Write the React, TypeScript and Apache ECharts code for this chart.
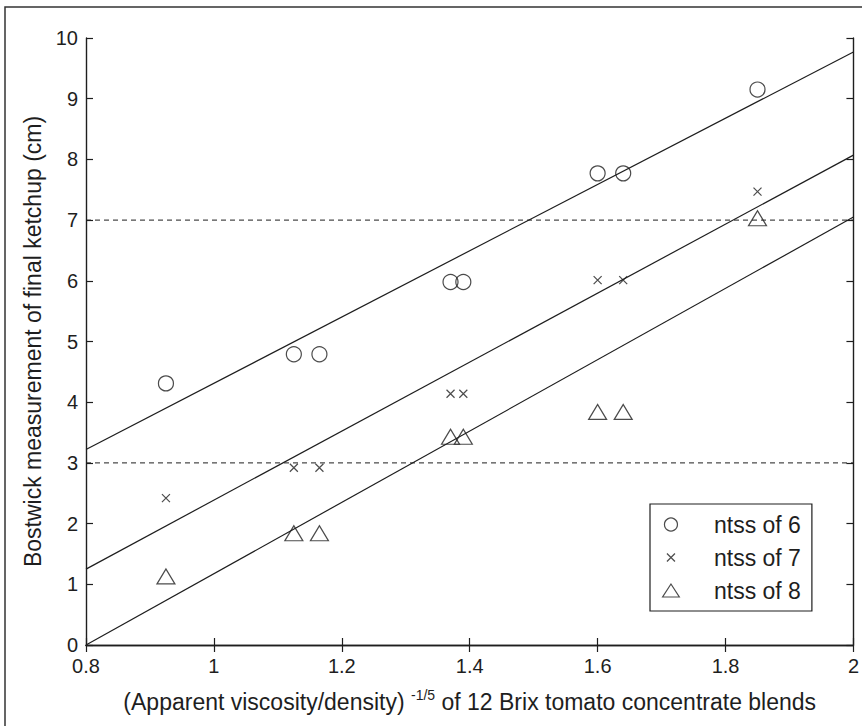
import React, { useEffect, useRef } from "react";
import * as echarts from "echarts";

// ---- data ----
const xValues = [0.925, 1.125, 1.165, 1.37, 1.39, 1.6, 1.64, 1.85];
const ntss6 = [4.31, 4.79, 4.79, 5.98, 5.98, 7.77, 7.77, 9.15];
const ntss7 = [2.42, 2.92, 2.92, 4.14, 4.14, 6.01, 6.01, 7.47];
const ntss8 = [1.13, 1.84, 1.84, 3.43, 3.43, 3.84, 3.84, 7.03];
const seriesNames = ["ntss of 6", "ntss of 7", "ntss of 8"];
const fitX = [0.8, 2.0];
const fit6 = [3.22, 9.77];
const fit7 = [1.25, 8.07];
const fit8 = [0.0, 7.05];
const refLevels = [3, 7];
const xRange = { min: 0.8, max: 2.0, interval: 0.2 };
const yRange = { min: 0, max: 10, interval: 1 };
const xTitle = "(Apparent viscosity/density) {sup|-1/5} of 12 Brix tomato concentrate blends";
const yTitle = "Bostwick measurement of final ketchup (cm)";

const FONT = "'Liberation Sans', Arial, Helvetica, sans-serif";
const INK = "#1e1e1e";

const pairs = (xs: number[], ys: number[]) => xs.map((x, i) => [x, ys[i]]);

const crossPath = "path://M0,0L10,10M10,0L0,10";
const crossLegend = "path://M0,0M13,13M2.5,2.5L10.5,10.5M10.5,2.5L2.5,10.5";
const triLegend = "path://M9,0L18,14L0,14Z";

function buildOption() {
  const markerStyle = { color: "rgba(0,0,0,0)", borderColor: INK, borderWidth: 1.2 };
  const fitLine = (name: string, ys: number[]) => ({
    name,
    type: "line",
    data: pairs(fitX, ys),
    showSymbol: false,
    silent: true,
    lineStyle: { color: INK, width: 1.2 },
    z: 2,
  });
  const refLine = (level: number) => ({
    name: "ref" + level,
    type: "line",
    data: pairs(fitX, [level, level]),
    showSymbol: false,
    silent: true,
    lineStyle: { color: INK, width: 1, type: [5, 4] },
    z: 1,
  });
  const axisCommon = {
    axisLine: { show: true, lineStyle: { color: INK, width: 1.4 } },
    axisTick: { show: true, inside: true, length: 7, lineStyle: { color: INK, width: 1.2 } },
    splitLine: { show: false },
  };
  return {
    animation: false,
    backgroundColor: "#ffffff",
    textStyle: { fontFamily: FONT },
    grid: { left: 86, right: 4, top: 38, bottom: 81 },
    graphic: [
      {
        type: "rect",
        silent: true,
        z: -10,
        shape: { x: 5, y: 7, width: 900, height: 800 },
        style: { fill: "none", stroke: "#333", lineWidth: 1.5 },
      },
    ],
    legend: {
      orient: "vertical",
      left: 650,
      top: 504,
      padding: [9, 11, 9, 12],
      itemGap: 10,
      itemWidth: 76,
      itemHeight: 13,
      borderColor: INK,
      borderWidth: 1.2,
      backgroundColor: "#fff",
      selectedMode: false,
      itemStyle: { borderWidth: 1.2, borderColor: INK, color: "rgba(0,0,0,0)" },
      textStyle: { fontSize: 23, color: INK, fontFamily: FONT },
      data: [
        { name: seriesNames[0], icon: "circle" },
        { name: seriesNames[1], icon: crossLegend },
        { name: seriesNames[2], icon: triLegend },
      ],
    },
    xAxis: [
      {
        type: "value",
        position: "bottom",
        ...xRange,
        ...axisCommon,
        axisLabel: {
          fontSize: 20,
          color: INK,
          margin: 11,
          fontFamily: FONT,
          formatter: (v: number) => String(parseFloat(v.toFixed(2))),
        },
        name: xTitle,
        nameLocation: "middle",
        nameGap: 43,
        nameTextStyle: {
          fontSize: 23,
          color: INK,
          fontFamily: FONT,
          lineHeight: 28,
          rich: { sup: { fontSize: 14, color: INK, fontFamily: FONT, verticalAlign: "top", lineHeight: 16 } },
        },
      },
      {
        type: "value",
        position: "top",
        ...xRange,
        ...axisCommon,
        axisLabel: { show: false },
      },
    ],
    yAxis: [
      {
        type: "value",
        position: "left",
        ...yRange,
        ...axisCommon,
        axisLabel: { fontSize: 20, color: INK, margin: 8, fontFamily: FONT },
        name: yTitle,
        nameLocation: "middle",
        nameRotate: 90,
        nameGap: 42,
        nameTextStyle: { fontSize: 23, color: INK, fontFamily: FONT },
      },
      {
        type: "value",
        position: "right",
        ...yRange,
        ...axisCommon,
        axisLabel: { show: false },
      },
    ],
    series: [
      refLine(refLevels[0]),
      refLine(refLevels[1]),
      fitLine("fit6", fit6),
      fitLine("fit7", fit7),
      fitLine("fit8", fit8),
      {
        name: seriesNames[0],
        type: "scatter",
        data: pairs(xValues, ntss6),
        symbol: "circle",
        symbolSize: 15,
        itemStyle: markerStyle,
        z: 3,
      },
      {
        name: seriesNames[1],
        type: "scatter",
        data: pairs(xValues, ntss7),
        symbol: crossPath,
        symbolSize: 8,
        itemStyle: markerStyle,
        z: 3,
      },
      {
        name: seriesNames[2],
        type: "scatter",
        data: pairs(xValues, ntss8),
        symbol: "triangle",
        symbolSize: [18, 15],
        itemStyle: markerStyle,
        z: 3,
      },
    ],
  };
}

export default function App() {
  const ref = useRef<HTMLDivElement>(null);
  useEffect(() => {
    if (!ref.current) return;
    const chart = echarts.init(ref.current, null, { renderer: "svg" });
    chart.setOption(buildOption() as any);
    return () => chart.dispose();
  }, []);
  return (
    <div
      ref={ref}
      style={{ position: "fixed", left: 0, top: 0, width: 862, height: 726, background: "#fff" }}
    />
  );
}
